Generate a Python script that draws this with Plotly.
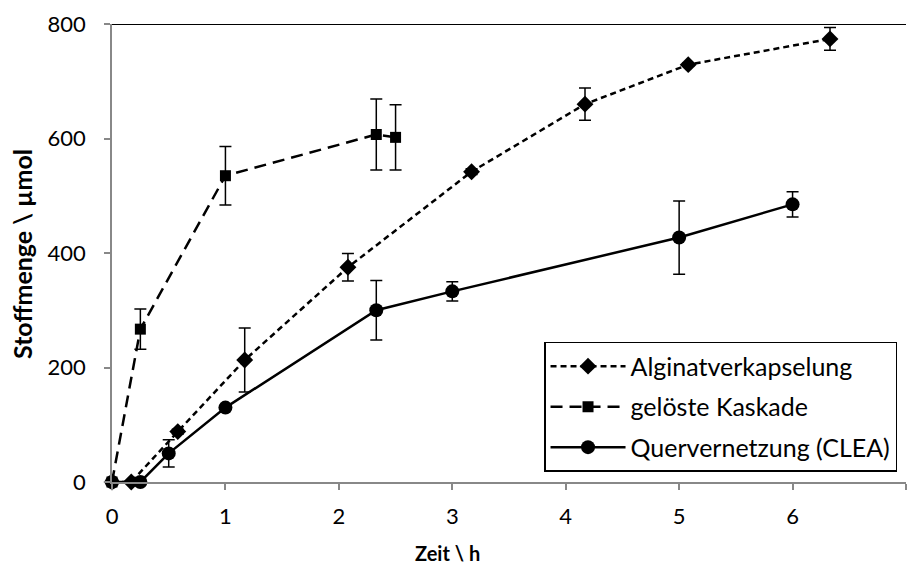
import plotly.graph_objects as go

# Alginatverkapselung
alg_t = [0, 0.17, 0.58, 1.17, 2.08, 3.17, 4.17, 5.08, 6.33]
alg_n = [0, 0, 88, 213, 375, 542, 660, 729, 774]
alg_err = [0, 0, 4, 56, 24, 5, 28, 3, 20]

# gelöste Kaskade
kas_t = [0, 0.25, 1, 2.33, 2.5]
kas_n = [0, 267, 535, 607, 602]
kas_err = [0, 35, 51, 62, 57]

# Quervernetzung (CLEA)
clea_t = [0, 0.25, 0.5, 1, 2.33, 3, 5, 6]
clea_n = [0, 0, 50, 130, 300, 333, 427, 485]
clea_err = [0, 0, 24, 3, 52, 17, 64, 22]

x_ticks = [0, 1, 2, 3, 4, 5, 6, 7]
y_ticks = [0, 200, 400, 600, 800]

FONT = "Lato, 'Open Sans', sans-serif"

def series(name, t, n, err, dash, symbol, size, group):
    return go.Scatter(
        x=t, y=n, name=name, mode="lines+markers",
        legendgroup=group,
        line=dict(color="black", width=2.5, dash=dash),
        marker=dict(symbol=symbol, size=size, color="black"),
        error_y=dict(type="data", array=err, visible=True,
                     color="black", thickness=1.5, width=6),
        cliponaxis=False,
    )

fig = go.Figure()
fig.add_trace(series("Alginatverkapselung", alg_t, alg_n, alg_err,
                     "6px,4px", "diamond", 13, "a"))
fig.add_trace(series("gelöste Kaskade", kas_t, kas_n, kas_err,
                     "12px,7px", "square", 11, "b"))
fig.add_trace(series("Quervernetzung (CLEA)", clea_t, clea_n, clea_err,
                     "solid", "circle", 14, "c"))

# top border of the plotting area
fig.add_shape(type="line", xref="x", yref="y", x0=0, x1=7, y0=800, y1=800,
              line=dict(color="black", width=2), layer="below")

fig.update_layout(
    width=910, height=569,
    margin=dict(l=112, r=4, t=24, b=87),
    paper_bgcolor="white", plot_bgcolor="white",
    font=dict(family=FONT, size=22, color="black"),
    showlegend=True,
    legend=dict(
        x=0.9887, y=0.022, xanchor="right", yanchor="bottom",
        bgcolor="white", bordercolor="black", borderwidth=1.5,
        font=dict(size=25, family=FONT),
        tracegroupgap=5, traceorder="grouped",
        itemwidth=75,
    ),
    xaxis=dict(
        range=[0, 7], tickvals=x_ticks, showgrid=False, zeroline=False,
        showline=True, linecolor="#888888", linewidth=1.5,
        ticks="outside", ticklen=6, tickcolor="#888888", tickwidth=1.5,
        tickfont=dict(size=22, family=FONT), ticklabelstandoff=8,
    ),
    yaxis=dict(
        range=[0, 800], tickvals=y_ticks, showgrid=False, zeroline=False,
        showline=True, linecolor="#888888", linewidth=1.5,
        ticks="outside", ticklen=6, tickcolor="#888888", tickwidth=1.5,
        tickfont=dict(size=22, family=FONT), ticklabelstandoff=14,
    ),
)

fig.add_annotation(text="<b>Zeit \\ h</b>", xref="paper", yref="paper",
                   x=(447 - 112) / 794, y=(482 - 553) / 458,
                   xanchor="center", yanchor="middle",
                   showarrow=False, font=dict(size=20, family=FONT))
fig.add_annotation(text="<b>Stoffmenge \\ µmol</b>", xref="paper", yref="paper",
                   x=(22 - 112) / 794, y=(482 - 254) / 458, textangle=-90,
                   xanchor="center", yanchor="middle",
                   showarrow=False, font=dict(size=25, family=FONT))

fig.write_html("out.html")
